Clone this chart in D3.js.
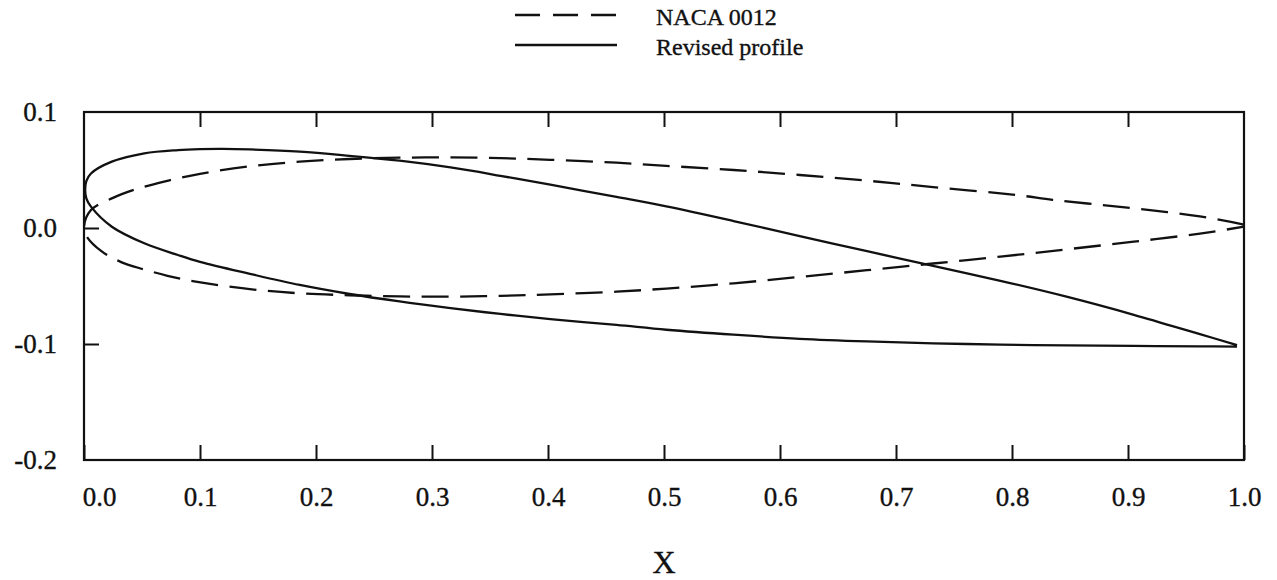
<!DOCTYPE html>
<html>
<head>
<meta charset="utf-8">
<script src="https://cdn.jsdelivr.net/npm/d3@7"></script>
<style>
  html, body { margin: 0; padding: 0; background: #fff; }
  svg { display: block; }
  text { font-family: "Liberation Serif", "Times New Roman", serif; fill: #111; stroke: #111; stroke-width: 0.35px; }
</style>
</head>
<body>
<svg id="chart" width="1277" height="580"></svg>
<script>
// NACA 0012 section: upper and lower surface ordinates
const nacaUpperX = [0.000, 0.006, 0.025, 0.044, 0.070, 0.100, 0.143, 0.186, 0.229, 0.272, 0.316, 0.359, 0.402, 0.459, 0.502, 0.560, 0.617, 0.675, 0.732, 0.804, 0.835, 0.876, 0.919, 0.962, 1.000];
const nacaUpperY = [0.001, 0.0155, 0.0260, 0.0332, 0.0402, 0.0467, 0.0532, 0.0572, 0.0595, 0.0606, 0.0609, 0.0602, 0.0588, 0.0563, 0.0536, 0.0500, 0.0457, 0.0408, 0.0353, 0.0284, 0.0243, 0.0200, 0.0155, 0.0100, 0.0030];
const nacaLowerX = [0.000, 0.002, 0.015, 0.032, 0.052, 0.072, 0.095, 0.143, 0.186, 0.229, 0.272, 0.316, 0.359, 0.402, 0.459, 0.502, 0.560, 0.617, 0.675, 0.732, 0.790, 0.847, 0.905, 0.962, 1.000];
const nacaLowerY = [0.001, -0.0068, -0.0200, -0.0294, -0.0358, -0.0412, -0.0460, -0.0527, -0.0563, -0.0580, -0.0590, -0.0592, -0.0585, -0.0572, -0.0549, -0.0522, -0.0477, -0.0422, -0.0364, -0.0306, -0.0247, -0.0184, -0.0118, -0.0048, 0.0011];

// Revised profile: upper and lower surface ordinates
const revUpperX = [0.001, 0.002, 0.006, 0.024, 0.052, 0.081, 0.100, 0.120, 0.143, 0.186, 0.229, 0.272, 0.316, 0.359, 0.402, 0.459, 0.502, 0.560, 0.617, 0.675, 0.732, 0.790, 0.847, 0.905, 0.962, 0.994];
const revUpperY = [0.0328, 0.0405, 0.0470, 0.0572, 0.0644, 0.0672, 0.0680, 0.0682, 0.0677, 0.0658, 0.0622, 0.0580, 0.0522, 0.0450, 0.0373, 0.0268, 0.0186, 0.0060, -0.0070, -0.0200, -0.0326, -0.0455, -0.0592, -0.0748, -0.0915, -0.1009];
const revLowerX = [0.001, 0.002, 0.006, 0.024, 0.052, 0.081, 0.100, 0.143, 0.186, 0.229, 0.272, 0.316, 0.359, 0.402, 0.459, 0.502, 0.560, 0.617, 0.675, 0.732, 0.790, 0.847, 0.905, 0.962, 0.994];
const revLowerY = [0.0328, 0.0255, 0.0184, 0.0011, -0.0132, -0.0233, -0.0292, -0.0395, -0.0491, -0.0569, -0.0633, -0.0690, -0.0741, -0.0785, -0.0836, -0.0877, -0.0920, -0.0955, -0.0978, -0.0994, -0.1005, -0.1012, -0.1017, -0.1020, -0.1023];

// Axis ticks and labels
const xTicks = [0, 0.1, 0.2, 0.3, 0.4, 0.5, 0.6, 0.7, 0.8, 0.9, 1.0];
const xTickLabels = ["0.0", "0.1", "0.2", "0.3", "0.4", "0.5", "0.6", "0.7", "0.8", "0.9", "1.0"];
const yTicks = [0.1, 0.0, -0.1, -0.2];
const yTickLabels = ["0.1", "0.0", "-0.1", "-0.2"];
const seriesNames = ["NACA 0012", "Revised profile"];
const xTitle = "X";

const svg = d3.select("#chart");
const ink = "#111";

const x = d3.scaleLinear().domain([0, 1]).range([84, 1244]);
const y = d3.scaleLinear().domain([-0.2, 0.1]).range([460, 112]);

// closed outline: trailing edge -> upper surface -> leading edge -> lower surface
function outline(ux, uy, lx, ly) {
  const up = ux.map((v, i) => [v, uy[i]]).reverse();
  const lo = lx.map((v, i) => [v, ly[i]]).slice(1);
  return up.concat(lo);
}

const line = d3.line()
  .x(d => x(d[0]))
  .y(d => y(d[1]))
  .curve(d3.curveCatmullRom.alpha(0.5));

// plot frame
svg.append("rect")
  .attr("x", x(0)).attr("y", y(0.1))
  .attr("width", x(1) - x(0)).attr("height", y(-0.2) - y(0.1))
  .attr("fill", "none").attr("stroke", ink).attr("stroke-width", 2.2);

// axes with inward ticks
const fmtX = d => xTickLabels[xTicks.indexOf(d)];
const fmtY = d => yTickLabels[yTicks.indexOf(d)];

const gB = svg.append("g").attr("transform", `translate(0,${y(-0.2)})`)
  .call(d3.axisBottom(x).tickValues(xTicks).tickFormat(fmtX).tickSizeInner(-15).tickSizeOuter(0).tickPadding(27));
const gT = svg.append("g").attr("transform", `translate(0,${y(0.1)})`)
  .call(d3.axisTop(x).tickValues(xTicks.slice(1, -1)).tickFormat("").tickSizeInner(-15).tickSizeOuter(0));
const gL = svg.append("g").attr("transform", `translate(${x(0)},0)`)
  .call(d3.axisLeft(y).tickValues(yTicks).tickFormat(fmtY).tickSizeInner(-15).tickSizeOuter(0).tickPadding(27));

[gB, gT, gL].forEach(g => {
  g.select(".domain").remove();
  g.selectAll(".tick line").attr("stroke", ink).attr("stroke-width", 2);
  g.selectAll("text").attr("font-family", "Liberation Serif, Times New Roman, serif")
    .attr("font-size", 27).attr("fill", ink);
});
// frame-coincident left ticks are hidden
gL.selectAll(".tick").filter(d => d === 0.1 || d === -0.2).select("line").remove();
// first x label sits right of the corner
gB.selectAll(".tick").filter(d => d === 0).select("text").attr("dx", 15);

// airfoil outlines
svg.append("path")
  .datum(outline(nacaUpperX, nacaUpperY, nacaLowerX, nacaLowerY))
  .attr("d", line)
  .attr("fill", "none").attr("stroke", ink).attr("stroke-width", 2.3)
  .attr("stroke-dasharray", "27,11.5");

svg.append("path")
  .datum(outline(revUpperX, revUpperY, revLowerX, revLowerY))
  .attr("d", line)
  .attr("fill", "none").attr("stroke", ink).attr("stroke-width", 2.3);

// legend
const legend = svg.append("g");
const legendRows = [
  { name: seriesNames[0], dash: "25,13", yy: 15 },
  { name: seriesNames[1], dash: null, yy: 45 }
];
legendRows.forEach(r => {
  legend.append("line")
    .attr("x1", 515).attr("x2", 617).attr("y1", r.yy).attr("y2", r.yy)
    .attr("stroke", ink).attr("stroke-width", 2.3)
    .attr("stroke-dasharray", r.dash);
  legend.append("text")
    .attr("x", 656).attr("y", r.yy + 10)
    .attr("font-size", 24)
    .text(r.name);
});

// x-axis title
svg.append("text")
  .attr("x", 664).attr("y", 573)
  .attr("text-anchor", "middle")
  .attr("font-size", 32)
  .text(xTitle);
</script>
</body>
</html>
